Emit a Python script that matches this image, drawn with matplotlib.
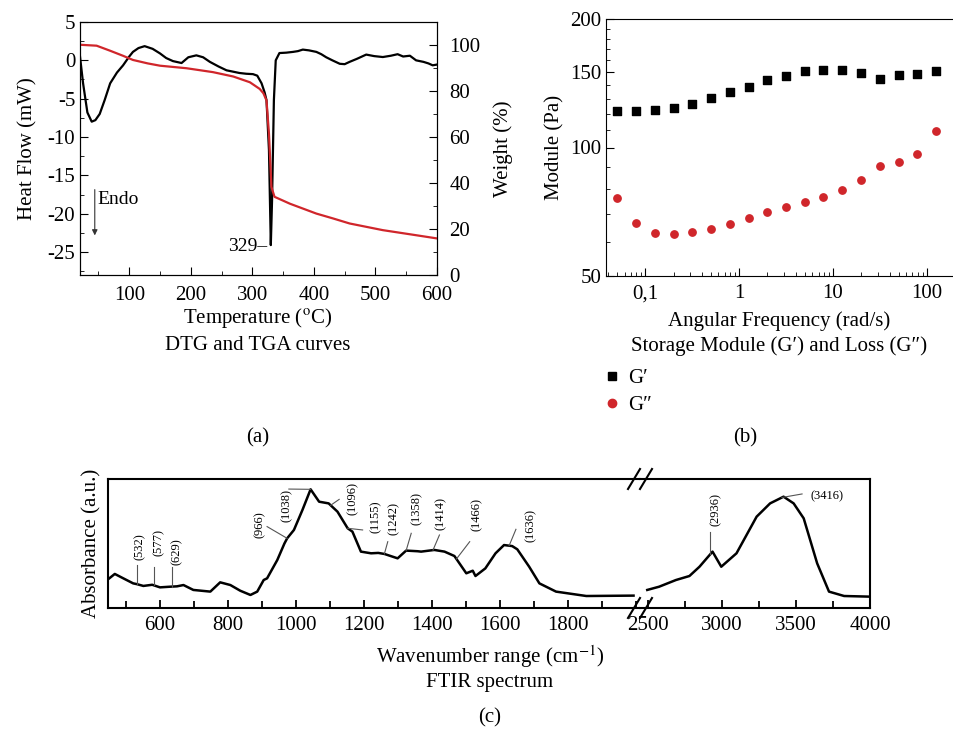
import matplotlib
matplotlib.use("Agg")
import matplotlib.pyplot as plt
import numpy as np
from matplotlib.ticker import MultipleLocator, FixedLocator, FixedFormatter, NullFormatter, LogLocator
from matplotlib.lines import Line2D

plt.rcParams['font.family'] = ['Liberation Serif', 'DejaVu Serif']
plt.rcParams['mathtext.fontset'] = 'stix'
plt.rcParams['axes.unicode_minus'] = False
plt.rcParams['font.size'] = 15

RED = "#d0262b"

# ---- (a) DSC heat flow and TGA weight ----
dsc_t = [20, 25, 32, 39, 45, 52, 60, 69, 80, 90, 100, 106, 115, 125, 138, 150, 160, 171,
         185, 196, 209, 220, 231, 245, 258, 270, 279, 290, 301, 308, 315, 320, 323, 327,
         330, 332, 335, 338, 344, 355, 366, 374, 382, 392, 404, 412, 420, 430, 442, 450,
         458, 470, 485, 498, 512, 525, 536, 545, 556, 566, 578, 586, 593, 600]
dsc_hf = [0.5, -3.0, -6.8, -8.0, -7.8, -7.0, -5.2, -3.0, -1.6, -0.65, 0.5, 1.1, 1.6, 1.85, 1.5, 0.9, 0.3, -0.1,
          -0.35, 0.4, 0.65, 0.4, -0.2, -0.8, -1.3, -1.5, -1.65, -1.75, -1.8, -2.0, -3.0, -4.2, -5.2, -11.7,
          -24.1, -18.3, -5.2, 0.0, 0.95, 1.0, 1.1, 1.2, 1.4, 1.3, 1.1, 0.8, 0.4, 0.0, -0.45, -0.5,
          -0.2, 0.2, 0.75, 0.55, 0.43, 0.6, 0.8, 0.5, 0.6, 0.0, -0.2, -0.4, -0.65, -0.55]

tga_t = [20, 47, 69, 90, 106, 130, 150, 193, 236, 269, 296, 312, 318, 323, 327, 331, 336,
         361, 404, 431, 458, 512, 566, 600]
tga_w = [100.1, 99.7, 97.5, 95.3, 93.5, 92.0, 91.0, 89.9, 88.2, 86.3, 83.8, 80.9, 79.0, 75.9, 61.4, 38.3, 34.0,
         31.0, 26.7, 24.6, 22.4, 19.5, 17.3, 15.9]

# ---- (b) rheology ----
freq = [0.05, 0.08, 0.126, 0.2, 0.316, 0.5, 0.79, 1.26, 2.0, 3.16, 5.0, 7.9, 12.6, 20.0, 31.6, 50.0, 79.0, 126.0]
g_storage = [121.8, 121.8, 122.4, 123.8, 126.5, 130.4, 134.9, 138.8, 143.9, 147.3, 150.8, 151.6, 151.6,
             149.2, 144.4, 148.1, 148.3, 150.8]
g_loss = [76.2, 66.7, 63.2, 62.8, 63.5, 64.3, 66.2, 68.2, 70.6, 72.4, 74.5, 76.7, 79.5, 83.9, 90.5, 92.6,
          96.6, 109.3]

# ---- (c) FTIR ----
wn_low = [447, 467, 492, 521, 532, 551, 577, 600, 629, 650, 669, 698, 748, 777, 807, 836, 866, 886, 905,
          915, 945, 966, 974, 994, 1019, 1043, 1068, 1096, 1122, 1152, 1166, 1191, 1221, 1242, 1260, 1299,
          1324, 1358, 1368, 1407, 1437, 1466, 1501, 1520, 1528, 1557, 1587, 1612, 1636, 1651, 1686, 1716,
          1765, 1854, 1993]
abs_low = [0.222, 0.264, 0.230, 0.191, 0.185, 0.171, 0.180, 0.160, 0.165, 0.168, 0.178, 0.140, 0.127, 0.199,
           0.178, 0.134, 0.101, 0.127, 0.217, 0.230, 0.372, 0.500, 0.540, 0.605, 0.760, 0.920, 0.824, 0.811,
           0.747, 0.618, 0.592, 0.437, 0.424, 0.427, 0.419, 0.385, 0.445, 0.440, 0.437, 0.450, 0.437, 0.403,
           0.269, 0.289, 0.248, 0.307, 0.424, 0.488, 0.480, 0.455, 0.320, 0.191, 0.127, 0.093, 0.096]
wn_high = [2495, 2575, 2689, 2780, 2848, 2936, 2995, 3098, 3234, 3325, 3416, 3484, 3552, 3643, 3723, 3825, 4000]
abs_high = [0.140, 0.165, 0.217, 0.248, 0.320, 0.437, 0.320, 0.424, 0.708, 0.811, 0.863, 0.811, 0.695, 0.346,
            0.127, 0.093, 0.088]

# annotation labels: (text, curve x, line end x, line end y, text x, text y, rotation, which part)
ftir_labels = [("(532)", 532, 532, 0.333, 540, 0.475, 90, 0),
               ("(577)", 582, 582, 0.320, 595, 0.506, 90, 0),
               ("(629)", 636, 636, 0.320, 649, 0.437, 90, 0),
               ("(966)", 974, 915, 0.631, 893, 0.643, 90, 0),
               ("(1038)", 1043, 979, 0.922, 972, 0.791, 90, 0),
               ("(1096)", 1102, 1127, 0.842, 1166, 0.850, 90, 0),
               ("(1155)", 1152, 1196, 0.605, 1235, 0.708, 90, 0),
               ("(1242)", 1260, 1270, 0.514, 1288, 0.695, 90, 0),
               ("(1358)", 1324, 1339, 0.579, 1354, 0.773, 90, 0),
               ("(1414)", 1403, 1422, 0.566, 1427, 0.729, 90, 0),
               ("(1466)", 1472, 1511, 0.514, 1531, 0.721, 90, 0),
               ("(1636)", 1627, 1647, 0.610, 1691, 0.636, 90, 0),
               ("(2936)", 2920, 2920, 0.592, 2961, 0.760, 90, 1),
               ("(3416)", 3405, 3541, 0.884, 3711, 0.866, 0, 1)]

W, H = 954, 733
fig = plt.figure(figsize=(W / 100, H / 100), dpi=100)


def box(l, t, r, b):
    return [l / W, 1 - b / H, (r - l) / W, (b - t) / H]


def ftext(x, y, s, **kw):
    kw.setdefault("fontsize", 15)
    fig.text(x / W, 1 - y / H, s, ha="center", va="center", **kw)


def inward(ax, **kw):
    ax.tick_params(which="both", direction="in", **kw)
    ax.tick_params(which="major", length=6)
    ax.tick_params(which="minor", length=3)


# (a)
ax1 = fig.add_axes(box(80, 22, 437, 275))
ax1.plot(dsc_t, dsc_hf, color="black", lw=1.6)
ax1.set_xlim(20, 600)
ax1.set_ylim(-28, 5)
ax1.set_xticks([100, 200, 300, 400, 500, 600])
ax1.xaxis.set_minor_locator(MultipleLocator(50))
ax1.set_yticks([5, 0, -5, -10, -15, -20, -25])
ax1.yaxis.set_minor_locator(MultipleLocator(2.5))
inward(ax1)
ax1.tick_params(axis="x", pad=8)
ax1.set_ylabel("Heat Flow (mW)", fontsize=15, labelpad=7)
ax1.annotate("", xy=(44, -23.2), xytext=(44, -16.5),
             arrowprops=dict(arrowstyle="-|>", color="#333333", lw=0.8, mutation_scale=8))
ax1.text(48, -18.2, "Endo", fontsize=14, va="center", ha="left")
ax1.text(324, -24.3, "329–", fontsize=14, va="center", ha="right")

ax1b = ax1.twinx()
ax1b.plot(tga_t, tga_w, color=RED, lw=1.6)
ax1b.set_ylim(0, 110)
ax1b.set_yticks([0, 20, 40, 60, 80, 100])
ax1b.yaxis.set_minor_locator(MultipleLocator(10))
inward(ax1b)
ax1b.tick_params(axis="y", pad=9)
ax1b.set_ylabel("Weight (%)", fontsize=15, labelpad=9)

ftext(258, 318, "Temperature ($^{\\mathrm{o}}$C)")
ftext(258, 346, "DTG and TGA curves")
ftext(258, 438, "(a)")

# (b)
ax2 = fig.add_axes(box(606, 19, 953, 276))
ax2.scatter(freq, g_storage, marker="s", s=28, color="black", label="G′", zorder=3)
ax2.scatter(freq, g_loss, marker="o", s=28, color=RED, label="G″", zorder=3)
ax2.set_xscale("log")
ax2.set_yscale("log")
ax2.set_xlim(0.038, 190)
ax2.set_ylim(50, 200)
ax2.xaxis.set_major_locator(FixedLocator([0.1, 1, 10, 100]))
ax2.xaxis.set_major_formatter(FixedFormatter(["0,1", "1", "10", "100"]))
ax2.xaxis.set_minor_locator(LogLocator(base=10, subs=np.arange(2, 10)))
ax2.xaxis.set_minor_formatter(NullFormatter())
ax2.yaxis.set_major_locator(FixedLocator([50, 100, 150, 200]))
ax2.yaxis.set_major_formatter(FixedFormatter(["50", "100", "150", "200"]))
ax2.yaxis.set_minor_locator(MultipleLocator(10))
ax2.yaxis.set_minor_formatter(NullFormatter())
ax2.spines["right"].set_visible(False)
inward(ax2)
ax2.tick_params(axis="x", pad=6)
ax2.set_ylabel("Module (Pa)", fontsize=15)
ftext(779, 321, "Angular Frequency (rad/s)")
ftext(779, 346, "Storage Module (G′) and Loss (G″)")
handles = [Line2D([], [], marker="s", ls="none", color="black", ms=6),
           Line2D([], [], marker="o", ls="none", color=RED, ms=6)]
fig.legend(handles, ["G′", "G″"], loc="upper left", bbox_to_anchor=(581 / W, 1 - 350 / H),
           frameon=False, fontsize=15, handletextpad=0.15, labelspacing=0.35, handlelength=1.2)
ftext(745, 438, "(b)")

# (c)
axl = fig.add_axes(box(108, 479, 640, 608))
axr = fig.add_axes(box(640, 479, 870, 608))
axl.plot(wn_low, abs_low, color="black", lw=1.8)
axr.plot(wn_high, abs_high, color="black", lw=1.8)
axl.set_xlim(447, 2012)
axr.set_xlim(2446, 4000)
for a in (axl, axr):
    a.set_ylim(0, 1)
    a.set_yticks([])
    for s in a.spines.values():
        s.set_linewidth(1.5)
    inward(a, width=1.3, pad=6)
    a.tick_params(which="major", length=6)
    a.tick_params(which="minor", length=5)
axl.spines["right"].set_visible(False)
axr.spines["left"].set_visible(False)
axl.set_xticks([600, 800, 1000, 1200, 1400, 1600, 1800])
axl.xaxis.set_minor_locator(MultipleLocator(100))
axr.set_xticks([2500, 3000, 3500, 4000])
axr.set_xticks([2750, 3250, 3750], minor=True)
axl.set_ylabel("Absorbance (a.u.)", fontsize=15, labelpad=5)

for text, x0, x1, y1, tx, ty, rot, part in ftir_labels:
    a = axl if part == 0 else axr
    xs, ys = (wn_low, abs_low) if part == 0 else (wn_high, abs_high)
    y0 = np.interp(x0, xs, ys)
    a.plot([x0, x1], [y0, y1], color="#555555", lw=0.8)
    a.text(tx, ty, text, rotation=rot, ha="center", va="center", fontsize=9)

# break marks
for yc in (479, 608):
    for xc in (634, 646):
        fig.add_artist(Line2D([(xc - 6) / W, (xc + 6) / W], [1 - (yc + 10) / H, 1 - (yc - 10) / H],
                              color="black", lw=1.5))

ftext(490, 657, "Wavenumber range (cm$^{-1}$)")
ftext(490, 683, "FTIR spectrum")
ftext(490, 718, "(c)")

fig.savefig("out.png", dpi=100)
